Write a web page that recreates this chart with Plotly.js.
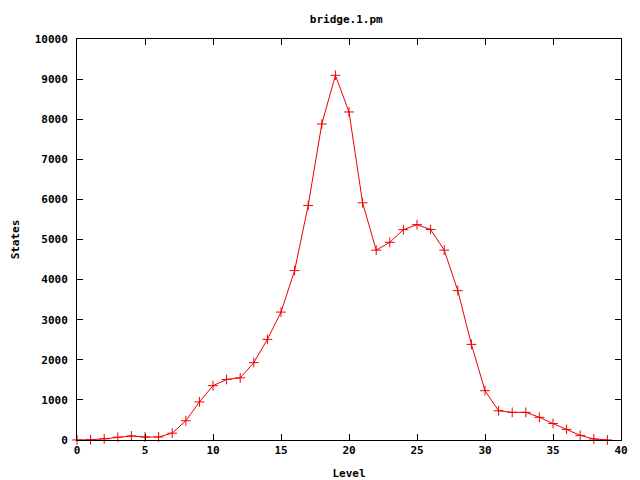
<!DOCTYPE html>
<html>
<head>
<meta charset="utf-8">
<script src="https://cdn.plot.ly/plotly-3.0.1.min.js"></script>
<style>html,body{margin:0;padding:0;background:#fff}#chart{width:640px;height:480px}</style>
</head>
<body>
<div id="chart"></div>
<script>
var levels = [0,1,2,3,4,5,6,7,8,9,10,11,12,13,14,15,16,17,18,19,20,21,22,23,24,25,26,27,28,29,30,31,32,33,34,35,36,37,38,39];
var states = [1,5,30,70,100,75,75,170,480,950,1355,1510,1550,1930,2510,3190,4225,5850,7880,9095,8180,5915,4735,4930,5245,5370,5250,4735,3725,2385,1230,730,690,690,565,410,265,115,25,1];
var titleText = "bridge.1.pm";
var xTitle = "Level";
var yTitle = "States";

var font = {family: "DejaVu Sans Mono, monospace", size: 11, color: "#000"};

var trace = {
  x: levels, y: states, type: "scatter", mode: "lines+markers",
  line: {color: "#ee0000", width: 1},
  marker: {symbol: "cross-thin-open", size: 7, line: {color: "#ee0000", width: 1}, color: "#ee0000"},
  cliponaxis: false,
  showlegend: false
};

var layout = {
  width: 640, height: 480,
  margin: {l: 77, r: 19, t: 39, b: 40},
  paper_bgcolor: "#fff", plot_bgcolor: "#fff",
  font: font,
  title: {text: "<b>" + titleText + "</b>", x: 0.541, xanchor: "center", y: 0.96, yanchor: "middle", font: {family: font.family, size: 11, color: "#000"}},
  xaxis: {
    range: [0, 40], dtick: 5, tick0: 0, showgrid: false, zeroline: false,
    showline: true, linecolor: "#000", linewidth: 1, mirror: "ticks",
    ticks: "inside", ticklen: 6, tickcolor: "#000",
    tickfont: {family: font.family, size: 11, color: "#000", weight: "bold"},
    title: {text: "<b>" + xTitle + "</b>", standoff: 13, font: {family: font.family, size: 11, color: "#000"}}
  },
  yaxis: {
    range: [0, 10000], dtick: 1000, tick0: 0, tickformat: "d", showgrid: false, zeroline: false,
    showline: true, linecolor: "#000", linewidth: 1, mirror: "ticks",
    ticks: "inside", ticklen: 6, tickcolor: "#000",
    tickfont: {family: font.family, size: 11, color: "#000", weight: "bold"},
    ticklabelstandoff: 6,
    title: {text: "<b>" + yTitle + "</b>", standoff: 12, font: {family: font.family, size: 11, color: "#000"}}
  }
};

Plotly.newPlot("chart", [trace], layout, {displayModeBar: false, staticPlot: true});
</script>
</body>
</html>
